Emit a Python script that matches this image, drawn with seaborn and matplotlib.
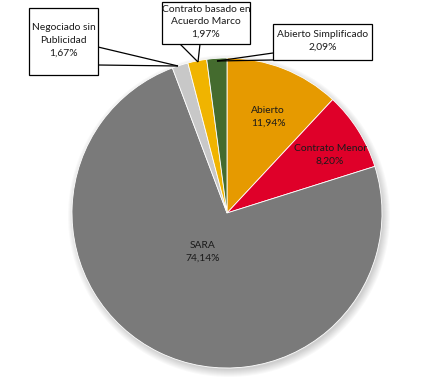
import matplotlib
matplotlib.use("Agg")
import matplotlib.pyplot as plt
import seaborn as sns
from matplotlib.patches import Circle, Rectangle

# data
categorias = ["Abierto", "Contrato Menor", "SARA", "Negociado sin\nPublicidad",
              "Contrato basado en\nAcuerdo Marco", "Abierto Simplificado"]
porcentajes = [11.94, 8.20, 74.14, 1.67, 1.97, 2.09]
colores = ["#E69A00", "#DF0029", "#7A7A7A", "#C8C8C8", "#F0B400", "#446B2E"]

sns.set_theme(style="white")
plt.rcParams['font.family'] = ['Lato', 'DejaVu Sans']

H = 381
fig = plt.figure(figsize=(4.46, 3.81), dpi=100)
ax = fig.add_axes([0, 0, 1, 1])

cx, cy, r = 227, H - 213, 155

# soft shadow
for i in range(8):
    ax.add_patch(Circle((cx + 2, cy - 3), r + 6 - i, color='black', alpha=0.025, lw=0, zorder=0))

wedges, _ = ax.pie(porcentajes, colors=sns.color_palette(colores), startangle=90, counterclock=False,
                   center=(cx, cy), radius=r, frame=True,
                   wedgeprops=dict(linewidth=0.6, edgecolor='white'))
ax.set_xlim(0, 446)
ax.set_ylim(0, H)
ax.set_aspect('equal')
ax.axis('off')

def fmt(v):
    return f"{v:.2f}".replace('.', ',') + "%"

fs = 7.4
ls = 1.5
# inside labels
ax.text(268, H - 117, f"{categorias[0]}\n{fmt(porcentajes[0])}", ha='center', va='center',
        fontsize=fs, linespacing=ls, color='#1a1a1a')
ax.text(330, H - 155, f"{categorias[1]}\n{fmt(porcentajes[1])}", ha='center', va='center',
        fontsize=fs, linespacing=ls, color='#1a1a1a')
ax.text(203, H - 252, f"{categorias[2]}\n{fmt(porcentajes[2])}", ha='center', va='center',
        fontsize=fs, linespacing=ls, color='#1a1a1a')

# callouts: (index, box x0, y0, x1, y1, leader base points, tip)
callouts = [
    (3, (29, 8, 98, 75), [(98, 47), (98, 65)], (178, 66)),
    (4, (162, 2, 250, 44), [(180, 44), (200, 44)], (198, 62)),
    (5, (273, 24, 372, 60), [(273, 53), (273, 60)], (217, 61)),
]
for idx, (x0, y0, x1, y1), bases, tip in callouts:
    ax.add_patch(Rectangle((x0, H - y1), x1 - x0, y1 - y0, fc='white', ec='black', lw=0.9, zorder=5))
    for bx, by in bases:
        ax.plot([bx, tip[0]], [H - by, H - tip[1]], color='black', lw=0.9, zorder=4,
                solid_capstyle='butt')
    ax.text((x0 + x1) / 2, H - (y0 + y1) / 2 + 1, f"{categorias[idx]}\n{fmt(porcentajes[idx])}",
            ha='center', va='center', fontsize=fs, linespacing=ls, color='#1a1a1a', zorder=6)

fig.savefig("out.png", dpi=100)
